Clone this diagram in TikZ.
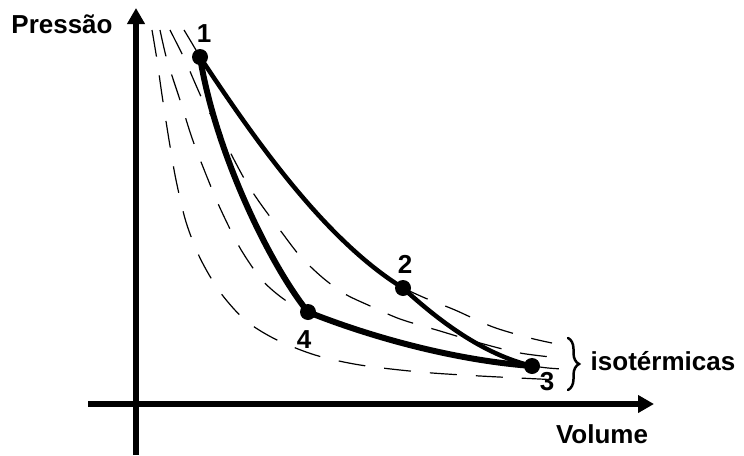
\documentclass[tikz,border=0pt]{standalone}
\usepackage{fontspec}
\setmainfont{Liberation Sans}
\usetikzlibrary{arrows.meta,decorations.pathreplacing}

\begin{document}
\begin{tikzpicture}[x=1pt,y=-1pt,line cap=round]
	\tikzstyle{iso}=[line width=1.2pt,line cap=butt,dash pattern=on 27pt off 19pt];
	\tikzstyle{eixo}=[line width=6.5pt,line cap=butt,-{Triangle[length=16pt,width=17pt]}];
	\tikzstyle{proc}=[line width=4.5pt];
	\tikzstyle{ponto}=[circle,fill=black,inner sep=0pt,minimum size=16pt];
	\tikzstyle{rotulo}=[font=\fontsize{26}{30}\selectfont\bfseries,anchor=base,inner sep=0pt];
	\useasboundingbox (0,0) rectangle (744,455);
	\coordinate (p1) at (200,57);
	\coordinate (p2) at (403,288);
	\coordinate (p3) at (532,366);
	\coordinate (p4) at (308,312);
	% isotermicas
	\draw[iso] plot[smooth] coordinates {(152,30) (157,60) (162,95) (169,140) (176,180) (186,222) (200,258) (220,292) (245,320) (275,339) (315,355) (360,365) (420,372) (480,376) (560,380)};
	\draw[iso] plot[smooth] coordinates {(160,30) (167,60) (180,100) (192,138) (205,172) (220,208) (240,248) (262,280) (285,300) (308,312)};
	\draw[iso] plot[smooth] coordinates {(532,366) (548,368) (562,369)};
	\draw[iso] plot[smooth] coordinates {(170,30) (185,60) (195,83) (205,105) (217,125) (228,148) (245,180) (260,203) (280,230) (300,256) (323,278) (345,294) (368,305) (400,319) (440,331) (480,343) (520,353) (560,358)};
	\draw[iso] plot[smooth] coordinates {(184,30) (193,45) (200,57)};
	\draw[iso] plot[smooth] coordinates {(403,288) (425,298) (455,310) (493,327) (530,338) (552,343)};
	% ciclo
	\draw[proc] (p1) .. controls (255,140) and (325,240) .. (p2);
	\draw[proc] (p2) .. controls (438,320) and (482,354) .. (p3);
	\draw[proc,line width=6pt] (p1) .. controls (215,150) and (268,262) .. (p4);
	\draw[proc,line width=6pt] (p4) .. controls (368,336) and (452,360) .. (p3);
	\node[ponto] (n1) at (p1) {};
	\node[ponto] (n2) at (p2) {};
	\node[ponto] (n3) at (p3) {};
	\node[ponto] (n4) at (p4) {};
	\node[rotulo] (l1) at (204,42) {1};
	\node[rotulo] (l2) at (405,273) {2};
	\node[rotulo] (l3) at (547,390) {3};
	\node[rotulo] (l4) at (304,348) {4};
	% eixos
	\draw[eixo] (136,455) -- (136,8);
	\draw[eixo] (88,404) -- (654,404);
	\node[rotulo] (pressao) at (62,33) {Pressão};
	\node[rotulo] (volume) at (602,443) {Volume};
	\draw[line width=2.5pt,decorate,decoration={brace,amplitude=11pt}] (568,338) -- (568,390);
	\node[rotulo] (isot) at (663,370) {isotérmicas};
\end{tikzpicture}
\end{document}
